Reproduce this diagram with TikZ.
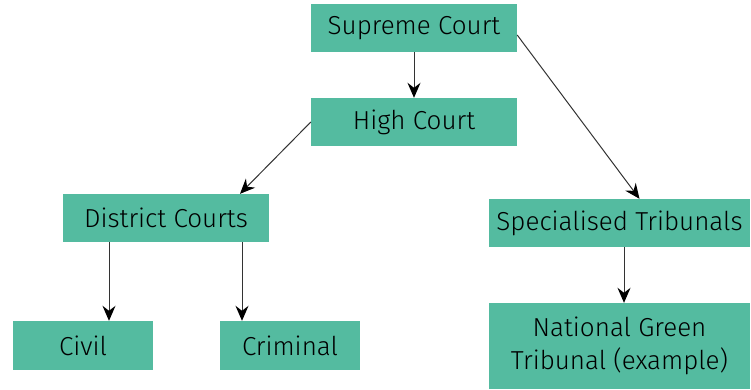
\documentclass[tikz,border=0pt]{standalone}
\usepackage{fontspec}
\setmainfont{Fira Sans}[UprightFont=* Light]
\usetikzlibrary{arrows.meta}
\definecolor{courtgreen}{HTML}{54BBA0}
\definecolor{linkgray}{HTML}{333333}
\begin{document}
\begin{tikzpicture}[x=1pt, y=-1pt,
    court/.style={fill=courtgreen, inner sep=0pt, font=\fontsize{26}{33}\selectfont, align=center},
    link/.style={draw=linkgray, line width=1pt, -{Stealth[length=15pt, width=13pt, inset=5pt, black]}}]
    \useasboundingbox (0, 0) rectangle (751, 389);
    \node[court, minimum width=206pt, minimum height=48pt] (supreme) at (414, 28) {Supreme Court};
    \node[court, minimum width=206pt, minimum height=48pt] (high) at (414, 122) {High Court};
    \node[court, minimum width=206pt, minimum height=48pt] (district) at (166, 218) {District Courts};
    \node[court, minimum width=261pt, minimum height=48pt] (special) at (619.5, 223) {Specialised Tribunals};
    \node[court, minimum width=140pt, minimum height=49pt] (civil) at (83, 345.5) {Civil};
    \node[court, minimum width=140pt, minimum height=49pt] (criminal) at (290, 345.5) {Criminal};
    \node[court, minimum width=261pt, minimum height=86pt] (green) at (619.5, 346) {National Green\\Tribunal (example)};
    \draw[link] (supreme) -- (high);
    \draw[link] (high.west) -- ([xshift=74pt]district.north);
    \draw[link] ([yshift=-7pt]supreme.east) -- ([xshift=20pt]special.north);
    \draw[link] ([xshift=-57pt]district.south) -- ([xshift=26pt]civil.north);
    \draw[link] ([xshift=76pt]district.south) -- ([xshift=-48pt]criminal.north);
    \draw[link] ([xshift=4.5pt]special.south) -- ([xshift=4.5pt]green.north);
\end{tikzpicture}
\end{document}
